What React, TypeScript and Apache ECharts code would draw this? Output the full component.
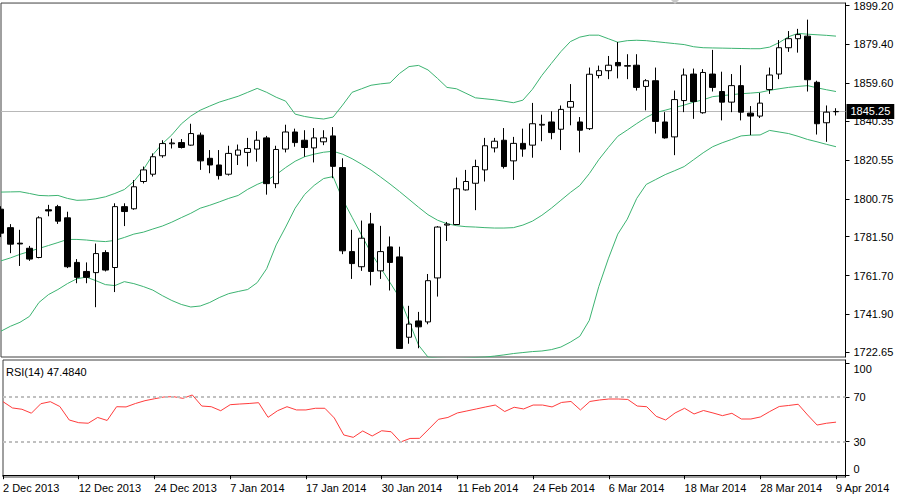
import React, { useEffect, useRef } from "react";
import * as echarts from "echarts";

const dates = [
  "2 Dec 2013", "3 Dec 2013", "4 Dec 2013", "5 Dec 2013", "6 Dec 2013", "9 Dec 2013", "10 Dec 2013", "11 Dec 2013", "12 Dec 2013", "13 Dec 2013",
  "16 Dec 2013", "17 Dec 2013", "18 Dec 2013", "19 Dec 2013", "20 Dec 2013", "23 Dec 2013", "24 Dec 2013", "26 Dec 2013", "27 Dec 2013", "30 Dec 2013",
  "31 Dec 2013", "2 Jan 2014", "3 Jan 2014", "6 Jan 2014", "7 Jan 2014", "8 Jan 2014", "9 Jan 2014", "10 Jan 2014", "13 Jan 2014", "14 Jan 2014",
  "15 Jan 2014", "16 Jan 2014", "17 Jan 2014", "21 Jan 2014", "22 Jan 2014", "23 Jan 2014", "24 Jan 2014", "27 Jan 2014", "28 Jan 2014", "29 Jan 2014",
  "30 Jan 2014", "31 Jan 2014", "3 Feb 2014", "4 Feb 2014", "5 Feb 2014", "6 Feb 2014", "7 Feb 2014", "10 Feb 2014", "11 Feb 2014", "12 Feb 2014",
  "13 Feb 2014", "14 Feb 2014", "18 Feb 2014", "19 Feb 2014", "20 Feb 2014", "21 Feb 2014", "24 Feb 2014", "25 Feb 2014", "26 Feb 2014", "27 Feb 2014",
  "28 Feb 2014", "3 Mar 2014", "4 Mar 2014", "5 Mar 2014", "6 Mar 2014", "7 Mar 2014", "10 Mar 2014", "11 Mar 2014", "12 Mar 2014", "13 Mar 2014",
  "14 Mar 2014", "17 Mar 2014", "18 Mar 2014", "19 Mar 2014", "20 Mar 2014", "21 Mar 2014", "24 Mar 2014", "25 Mar 2014", "26 Mar 2014", "27 Mar 2014",
  "28 Mar 2014", "31 Mar 2014", "1 Apr 2014", "2 Apr 2014", "3 Apr 2014", "4 Apr 2014", "7 Apr 2014", "8 Apr 2014", "9 Apr 2014",
];

const opens = [
  1795.5, 1786.1, 1778.2, 1775.6, 1770.9, 1795.2, 1796.8, 1791.1, 1768.4, 1763.8,
  1763.2, 1773.4, 1765.8, 1796.8, 1795.7, 1809.6, 1813.3, 1822.7, 1828.8, 1829.4,
  1828.1, 1833.2, 1821.4, 1818.0, 1813.3, 1823.0, 1824.4, 1826.1, 1831.8, 1808.5,
  1826.1, 1834.8, 1830.6, 1826.7, 1829.8, 1832.8, 1816.7, 1773.9, 1766.2, 1788.0,
  1764.1, 1776.3, 1771.2, 1730.3, 1738.6, 1738.1, 1760.5, 1787.4, 1787.7, 1805.3,
  1808.7, 1815.5, 1826.7, 1830.6, 1820.1, 1829.0, 1828.1, 1838.3, 1839.9, 1836.2,
  1847.4, 1839.9, 1836.5, 1863.6, 1866.0, 1870.2, 1868.3, 1868.8, 1858.0, 1860.9,
  1839.9, 1832.3, 1850.8, 1864.3, 1844.6, 1864.3, 1855.4, 1850.0, 1858.4, 1844.4,
  1842.9, 1856.4, 1864.3, 1877.7, 1882.3, 1883.6, 1860.1, 1839.5, 1845.1,
];
const closes = [
  1783.3, 1777.7, 1777.8, 1770.1, 1791.1, 1794.6, 1789.4, 1766.2, 1760.8, 1760.8,
  1772.9, 1764.5, 1796.8, 1794.3, 1806.9, 1815.5, 1822.2, 1828.9, 1829.2, 1826.9,
  1834.0, 1820.1, 1818.0, 1812.6, 1823.9, 1825.6, 1826.4, 1830.6, 1808.5, 1825.9,
  1834.8, 1829.4, 1826.9, 1831.8, 1831.8, 1817.3, 1774.3, 1767.8, 1780.7, 1763.8,
  1773.9, 1768.4, 1724.6, 1737.0, 1735.6, 1759.1, 1786.4, 1787.9, 1805.9, 1809.6,
  1817.2, 1827.8, 1830.1, 1817.2, 1829.0, 1826.1, 1839.0, 1838.7, 1834.5, 1846.3,
  1850.3, 1835.7, 1864.2, 1866.0, 1868.8, 1868.5, 1868.6, 1857.5, 1860.9, 1840.2,
  1831.8, 1851.3, 1863.8, 1850.3, 1865.1, 1857.5, 1850.0, 1858.4, 1844.9, 1842.9,
  1849.5, 1863.8, 1877.7, 1882.3, 1884.4, 1861.4, 1839.0, 1844.9, 1845.25,
];
const lows = [
  1781.3, 1773.1, 1766.6, 1769.2, 1770.5, 1791.9, 1788.0, 1765.5, 1757.8, 1757.8,
  1745.6, 1763.8, 1753.3, 1786.9, 1795.2, 1808.6, 1812.1, 1821.7, 1826.4, 1826.4,
  1827.8, 1815.5, 1813.8, 1810.6, 1812.6, 1818.0, 1817.3, 1819.7, 1802.9, 1806.2,
  1824.4, 1827.3, 1822.2, 1819.3, 1828.1, 1811.3, 1772.6, 1760.0, 1764.1, 1756.7,
  1760.0, 1754.1, 1724.3, 1727.0, 1724.7, 1736.9, 1751.0, 1779.3, 1787.4, 1805.0,
  1795.0, 1809.6, 1824.4, 1816.2, 1810.4, 1822.2, 1821.7, 1830.1, 1831.1, 1825.6,
  1838.2, 1824.4, 1835.8, 1862.1, 1861.7, 1862.1, 1861.7, 1855.9, 1845.8, 1834.0,
  1831.4, 1823.0, 1844.9, 1841.5, 1844.1, 1855.4, 1840.7, 1844.9, 1840.7, 1833.2,
  1841.9, 1854.2, 1861.7, 1875.6, 1875.2, 1855.4, 1833.5, 1829.8, 1843.2,
];
const highs = [
  1797.0, 1787.9, 1785.0, 1776.8, 1791.9, 1797.7, 1797.7, 1794.2, 1770.1, 1768.4,
  1778.0, 1774.6, 1798.5, 1798.5, 1810.3, 1817.2, 1823.9, 1830.6, 1831.4, 1831.2,
  1839.0, 1834.5, 1825.6, 1825.6, 1827.8, 1828.4, 1831.8, 1835.2, 1832.8, 1827.8,
  1838.5, 1836.5, 1835.7, 1836.8, 1835.7, 1837.3, 1821.4, 1785.0, 1789.7, 1793.6,
  1787.0, 1781.6, 1776.4, 1746.3, 1743.2, 1762.5, 1786.9, 1789.0, 1811.6, 1815.5,
  1820.7, 1831.8, 1831.8, 1836.8, 1832.3, 1836.5, 1849.6, 1843.6, 1845.3, 1848.3,
  1859.2, 1842.4, 1867.6, 1868.6, 1873.5, 1880.6, 1874.4, 1874.4, 1861.7, 1867.6,
  1844.9, 1855.9, 1867.1, 1867.1, 1866.8, 1876.6, 1865.5, 1864.3, 1868.8, 1848.0,
  1854.7, 1867.6, 1881.6, 1886.2, 1887.3, 1892.0, 1860.9, 1848.3, 1846.9,
];

const bbUpper = [
  1804.2, 1804.3, 1804.4, 1803.5, 1802.5, 1802.3, 1802.5, 1801.0, 1800.0, 1800.2,
  1800.8, 1801.8, 1803.5, 1805.5, 1809.6, 1815.6, 1823.2, 1828.8, 1833.3, 1838.9,
  1842.9, 1845.9, 1848.0, 1850.0, 1851.5, 1853.0, 1855.0, 1857.0, 1855.0, 1852.5,
  1850.5, 1843.9, 1842.7, 1841.9, 1841.4, 1842.4, 1848.5, 1855.0, 1856.8, 1858.6,
  1859.3, 1859.8, 1864.6, 1868.1, 1868.7, 1866.4, 1862.1, 1857.5, 1856.8, 1854.5,
  1852.2, 1851.7, 1851.2, 1850.5, 1849.7, 1851.0, 1856.5, 1863.6, 1869.7, 1875.7,
  1880.8, 1883.1, 1884.1, 1884.1, 1882.3, 1880.5, 1881.3, 1881.5, 1881.3, 1880.8,
  1880.3, 1879.8, 1879.3, 1878.2, 1877.7, 1877.6, 1877.5, 1877.4, 1877.3, 1877.2,
  1877.2, 1878.0, 1880.3, 1883.3, 1885.0, 1884.6, 1884.3, 1884.0, 1883.6,
];
const bbMiddle = [
  1769.2, 1770.7, 1772.5, 1774.0, 1775.5, 1777.0, 1778.5, 1780.1, 1780.1, 1779.8,
  1779.3, 1779.0, 1779.6, 1781.1, 1782.8, 1783.8, 1785.4, 1786.9, 1788.9, 1791.2,
  1793.4, 1796.0, 1797.5, 1799.2, 1801.0, 1802.5, 1805.6, 1808.1, 1810.1, 1813.1,
  1816.7, 1819.9, 1822.2, 1823.5, 1824.5, 1825.0, 1823.5, 1821.2, 1818.4, 1815.4,
  1811.9, 1808.3, 1804.5, 1800.5, 1796.5, 1792.7, 1789.9, 1788.1, 1787.1, 1786.6,
  1786.4, 1786.1, 1785.9, 1785.9, 1786.1, 1787.4, 1789.4, 1792.4, 1796.0, 1800.0,
  1804.0, 1807.6, 1813.6, 1820.7, 1826.8, 1832.6, 1835.8, 1839.1, 1842.2, 1844.7,
  1845.9, 1847.2, 1848.5, 1850.0, 1851.2, 1852.8, 1853.3, 1853.8, 1854.3, 1854.6,
  1855.0, 1856.0, 1856.8, 1857.5, 1858.0, 1858.4, 1857.3, 1856.3, 1855.4,
];
const bbLower = [
  1733.4, 1735.9, 1737.9, 1740.9, 1748.0, 1752.0, 1754.6, 1757.6, 1760.1, 1760.9,
  1759.1, 1757.1, 1756.6, 1758.6, 1757.6, 1756.1, 1754.3, 1751.5, 1749.0, 1747.0,
  1745.7, 1746.2, 1748.0, 1750.5, 1752.5, 1753.6, 1754.6, 1758.1, 1765.2, 1777.3,
  1786.4, 1796.0, 1803.0, 1807.6, 1811.1, 1812.1, 1800.5, 1791.4, 1782.3, 1773.2,
  1765.7, 1758.1, 1750.5, 1738.4, 1726.3, 1720.2, 1719.7, 1719.5, 1719.5, 1719.7,
  1720.0, 1720.2, 1720.7, 1721.3, 1722.0, 1722.5, 1723.0, 1723.3, 1724.0, 1725.3,
  1727.8, 1730.8, 1738.9, 1756.1, 1770.2, 1782.8, 1790.4, 1801.0, 1808.1, 1810.6,
  1813.1, 1815.1, 1817.2, 1820.7, 1824.2, 1827.3, 1829.3, 1831.0, 1832.8, 1833.2,
  1833.3, 1835.6, 1834.8, 1834.0, 1832.6, 1831.0, 1829.8, 1828.5, 1827.3,
];

const rsi = [
  65.8, 60.2, 59.0, 55.5, 64.0, 65.8, 61.5, 49.4, 47.0, 46.5,
  51.7, 49.0, 61.3, 61.1, 64.2, 66.7, 68.4, 70.0, 70.3, 68.8,
  71.8, 61.9, 61.3, 57.7, 63.1, 63.7, 64.2, 64.9, 51.8, 57.7,
  61.3, 58.4, 58.4, 59.9, 59.9, 51.2, 36.0, 33.9, 39.6, 35.1,
  39.8, 38.9, 29.7, 32.9, 33.0, 41.4, 50.0, 51.7, 55.7, 57.5,
  59.3, 61.1, 62.8, 57.0, 60.8, 59.3, 62.8, 62.8, 61.1, 65.1,
  66.0, 58.4, 66.0, 67.3, 68.2, 68.2, 67.8, 61.9, 61.3, 52.7,
  49.4, 55.7, 59.9, 54.8, 57.9, 55.7, 53.3, 55.4, 50.3, 50.3,
  52.1, 57.0, 61.5, 62.4, 63.5, 53.9, 44.9, 46.5, 47.484,
];

const priceTicks = [1722.65, 1741.9, 1761.7, 1781.5, 1800.75, 1820.55, 1840.35, 1859.6, 1879.4, 1899.2];
const rsiTicks = [0, 30, 70, 100];
const rsiLevels = [30, 70];
const lastPrice = 1845.25;
const rsiTitle = "RSI(14) 47.4840";

const FONT = "'Liberation Sans', Arial, sans-serif";

export default function App() {
  const ref = useRef<HTMLDivElement>(null);

  useEffect(() => {
    if (!ref.current) return;
    const chart = echarts.init(ref.current, undefined, { renderer: "svg" });
    const cats = [...dates, ""];
    const candles = opens.map((o, i) => [o, closes[i], lows[i], highs[i]]);
    const everyEight = (i: number) => i % 8 === 0 && i < dates.length;

    const bandLine = (name: string, data: number[]) => ({
      name,
      type: "line",
      xAxisIndex: 0,
      yAxisIndex: 0,
      data,
      showSymbol: false,
      symbol: "none",
      silent: true,
      lineStyle: { color: "#3cb371", width: 1 },
      z: 3,
    });

    chart.setOption({
      animation: false,
      backgroundColor: "#ffffff",
      textStyle: { fontFamily: FONT },
      title: {
        text: rsiTitle,
        left: 6,
        top: 366,
        padding: 0,
        textStyle: { fontSize: 11, fontWeight: "normal", color: "#000", fontFamily: FONT },
      },
      grid: [
        { left: 1, top: 0, width: 844.5, height: 357, show: true, borderColor: "#404040", borderWidth: 1 },
        { left: 1, top: 360, width: 844.5, height: 117, show: true, borderColor: "#404040", borderWidth: 1 },
      ],
      xAxis: [
        {
          type: "category",
          gridIndex: 0,
          data: cats,
          boundaryGap: false,
          axisLine: { show: false },
          axisTick: { show: false },
          axisLabel: { show: false },
          splitLine: { show: false },
        },
        {
          type: "category",
          gridIndex: 1,
          data: cats,
          boundaryGap: false,
          axisLine: { show: true, lineStyle: { color: "#000", width: 1 } },
          axisTick: { show: true, interval: everyEight, length: 4, lineStyle: { color: "#000" } },
          axisLabel: {
            interval: everyEight,
            align: "left",
            margin: 5,
            fontSize: 11,
            color: "#000",
            fontFamily: FONT,
          },
          splitLine: { show: false },
        },
      ],
      yAxis: [
        {
          type: "value",
          gridIndex: 0,
          position: "right",
          min: 1720.24,
          max: 1900.45,
          axisLine: { show: true, lineStyle: { color: "#000" } },
          axisTick: { show: true, customValues: priceTicks, length: 4, lineStyle: { color: "#000" } },
          axisLabel: {
            customValues: priceTicks,
            formatter: (v: number) => v.toFixed(2),
            margin: 8,
            fontSize: 11,
            color: "#000",
            fontFamily: FONT,
          },
          splitLine: { show: false },
        },
        {
          type: "value",
          gridIndex: 1,
          position: "right",
          min: -1.6,
          max: 103.1,
          axisLine: { show: true, lineStyle: { color: "#000" } },
          axisTick: { show: true, customValues: rsiTicks, length: 4, lineStyle: { color: "#000" } },
          axisLabel: {
            customValues: rsiTicks,
            margin: 8,
            fontSize: 11,
            color: "#000",
            fontFamily: FONT,
            formatter: (v: number) => (v === 100 ? "{dn|100}" : v === 0 ? "{up|0}" : String(v)),
            rich: {
              dn: { padding: [11, 0, 0, 0], fontSize: 11, color: "#000", fontFamily: FONT },
              up: { padding: [0, 0, 12, 0], fontSize: 11, color: "#000", fontFamily: FONT },
            },
          },
          splitLine: { show: false },
        },
      ],
      graphic: [
        {
          type: "polygon",
          shape: { points: [[675, -8], [681, -2], [675, 4], [669, -2]] },
          style: { fill: "#c8c8c8" },
          silent: true,
        },
      ],
      series: [
        bandLine("Upper", bbUpper),
        bandLine("Middle", bbMiddle),
        bandLine("Lower", bbLower),
        {
          name: "Price",
          type: "candlestick",
          xAxisIndex: 0,
          yAxisIndex: 0,
          data: candles,
          barWidth: 6,
          z: 4,
          itemStyle: {
            color: "#ffffff",
            color0: "#000000",
            borderColor: "#000000",
            borderColor0: "#000000",
            borderWidth: 1,
          },
          markLine: {
            silent: true,
            symbol: ["none", "none"],
            animation: false,
            z: 2,
            lineStyle: { color: "#b8b8b8", width: 1, type: "solid" },
            data: [{ yAxis: lastPrice }],
            label: {
              show: true,
              position: "end",
              distance: 1,
              formatter: lastPrice.toFixed(2),
              backgroundColor: "#000",
              color: "#fff",
              padding: [2, 4, 2, 4],
              fontSize: 11,
              fontFamily: FONT,
            },
          },
        },
        {
          name: "RSI",
          type: "line",
          xAxisIndex: 1,
          yAxisIndex: 1,
          data: rsi,
          showSymbol: false,
          symbol: "none",
          lineStyle: { color: "#ff3c3c", width: 1 },
          markLine: {
            silent: true,
            symbol: ["none", "none"],
            animation: false,
            label: { show: false },
            lineStyle: { color: "#c0c0c0", width: 2, type: [3, 3] },
            data: rsiLevels.map((v) => ({ yAxis: v })),
          },
        },
      ],
    });

    return () => chart.dispose();
  }, []);

  return (
    <div
      ref={ref}
      style={{ position: "fixed", left: 0, top: 0, width: 900, height: 503, background: "#fff" }}
    />
  );
}
